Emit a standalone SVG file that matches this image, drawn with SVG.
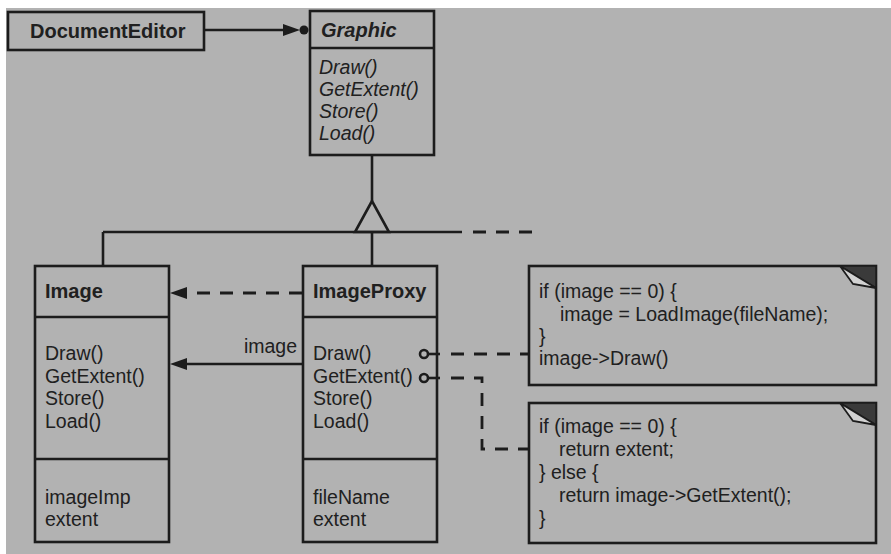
<svg xmlns="http://www.w3.org/2000/svg" width="891" height="554" viewBox="0 0 891 554">
<style>
.box{fill:none;stroke:#1c1c1c;stroke-width:2.6}
.ln{fill:none;stroke:#1c1c1c;stroke-width:2.6}
.dash{fill:none;stroke:#1c1c1c;stroke-width:2.8;stroke-dasharray:13 10}
.head{fill:#1c1c1c;stroke:none}
.t{font-family:"Liberation Sans",Arial,sans-serif;font-size:19.5px;fill:#202020}
.b{font-weight:bold;font-size:20px}
.i{font-style:italic}
.fold{fill:#3a3a3a;stroke:#1c1c1c;stroke-width:1.5}
.flap{fill:#d2d2d2;stroke:#1c1c1c;stroke-width:1.8}
</style>
<rect x="0" y="0" width="891" height="554" fill="#ffffff"/>
<rect x="6" y="8" width="885" height="546" fill="#b2b2b2"/>

<g id="connectors">
  <line class="ln" x1="204" y1="30" x2="290" y2="30"/>
  <polygon class="head" points="283,24 300,30 283,36"/>
  <circle class="head" cx="304" cy="30" r="4.5"/>
  <line class="ln" x1="372" y1="155" x2="372" y2="201"/>
  <polygon class="ln" points="372,201 355,232 389,232"/>
  <line class="ln" x1="103" y1="232" x2="462" y2="232"/>
  <line class="dash" x1="473" y1="232" x2="536" y2="232"/>
  <line class="ln" x1="103" y1="232" x2="103" y2="266"/>
  <line class="ln" x1="372" y1="232" x2="372" y2="266"/>
  <line class="dash" x1="302" y1="293" x2="184" y2="293"/>
  <polygon class="head" points="170,293 187,287 187,299"/>
  <line class="ln" x1="303" y1="364" x2="184" y2="364"/>
  <polygon class="head" points="170,364 187,358 187,370"/>
  <circle class="ln" cx="424" cy="354" r="4" stroke-width="2.2"/>
  <circle class="ln" cx="424" cy="378" r="4" stroke-width="2.2"/>
  <line class="ln" x1="428" y1="354" x2="440" y2="354"/>
  <line class="ln" x1="428" y1="378" x2="440" y2="378"/>
  <line class="dash" x1="451" y1="354" x2="529" y2="354"/>
  <polyline class="dash" points="451,378 482,378 482,449 529,449"/>
</g>

<g id="DocumentEditor">
  <rect class="box" x="8" y="12" width="196" height="38"/>
  <text class="t b" x="30" y="38">DocumentEditor</text>
</g>

<g id="Graphic">
  <rect class="box" x="310" y="11" width="124" height="144"/>
  <line class="ln" x1="310" y1="48" x2="434" y2="48"/>
  <text class="t b i" x="321" y="37">Graphic</text>
  <text class="t i" x="319" y="74">Draw()</text>
  <text class="t i" x="319" y="96">GetExtent()</text>
  <text class="t i" x="319" y="118">Store()</text>
  <text class="t i" x="319" y="140">Load()</text>
</g>

<g id="Image">
  <rect class="box" x="35" y="266" width="134" height="276"/>
  <line class="ln" x1="35" y1="317" x2="169" y2="317"/>
  <line class="ln" x1="35" y1="459" x2="169" y2="459"/>
  <text class="t b" x="45" y="298">Image</text>
  <text class="t" x="45" y="360">Draw()</text>
  <text class="t" x="45" y="383">GetExtent()</text>
  <text class="t" x="45" y="405">Store()</text>
  <text class="t" x="45" y="428">Load()</text>
  <text class="t" x="45" y="504">imageImp</text>
  <text class="t" x="45" y="526">extent</text>
</g>

<g id="ImageProxy">
  <rect class="box" x="303" y="266" width="134" height="276"/>
  <line class="ln" x1="303" y1="317" x2="437" y2="317"/>
  <line class="ln" x1="303" y1="459" x2="437" y2="459"/>
  <text class="t b" x="313" y="298">ImageProxy</text>
  <text class="t" x="313" y="360">Draw()</text>
  <text class="t" x="313" y="383">GetExtent()</text>
  <text class="t" x="313" y="405">Store()</text>
  <text class="t" x="313" y="428">Load()</text>
  <text class="t" x="313" y="504">fileName</text>
  <text class="t" x="313" y="526">extent</text>
</g>

<g id="label-image">
  <text class="t" x="297" y="353" text-anchor="end">image</text>
</g>

<g id="NoteDraw">
  <rect class="box" x="529" y="266" width="347" height="119"/>
  <polygon class="fold" points="840,266 876,266 876,288"/>
  <polygon class="flap" points="840,266 853,284 876,288"/>
  <text class="t" x="539" y="298">if (image == 0) {</text>
  <text class="t" x="560" y="321">image = LoadImage(fileName);</text>
  <text class="t" x="539" y="343">}</text>
  <text class="t" x="539" y="365">image-&gt;Draw()</text>
</g>

<g id="NoteGetExtent">
  <rect class="box" x="529" y="403" width="347" height="140"/>
  <polygon class="fold" points="840,403 876,403 876,425"/>
  <polygon class="flap" points="840,403 853,421 876,425"/>
  <text class="t" x="539" y="433">if (image == 0) {</text>
  <text class="t" x="559" y="456">return extent;</text>
  <text class="t" x="539" y="479">} else {</text>
  <text class="t" x="559" y="502">return image-&gt;GetExtent();</text>
  <text class="t" x="539" y="525">}</text>
</g>
</svg>
